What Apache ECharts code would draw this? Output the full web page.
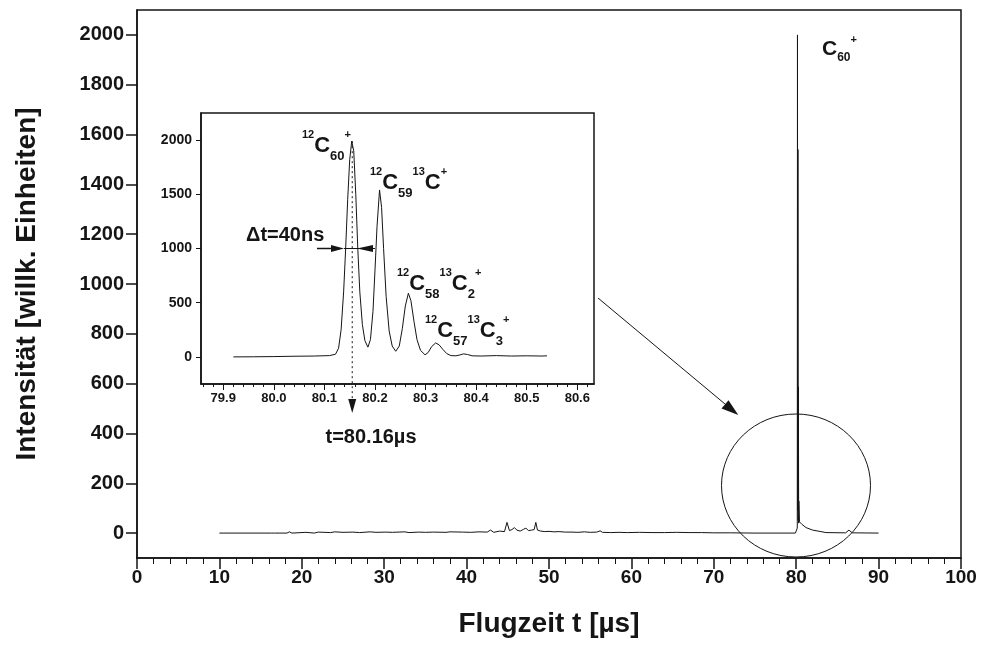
<!DOCTYPE html>
<html><head><meta charset="utf-8">
<script src="https://cdn.jsdelivr.net/npm/echarts@6/dist/echarts.min.js"></script>
<style>html,body{margin:0;padding:0;background:#fff}#c{width:981px;height:649px}</style>
</head><body><div id="c"></div>
<script>
// ---------- data ----------
const mainXTicks = [0,10,20,30,40,50,60,70,80,90,100];
const mainYTicks = [0,200,400,600,800,1000,1200,1400,1600,1800,2000];
const insetXTicks = [79.9,80.0,80.1,80.2,80.3,80.4,80.5,80.6];
const insetYTicks = [0,500,1000,1500,2000];

const mainTime = [10,16.3,16.5,16.7,18.2,18.5,18.8,20.5,21.5,22.0,23.5,24.0,25.0,26.2,27.0,28.3,29.0,30.2,31.0,32.5,33.0,34.2,35.0,36.0,37.5,38.0,39.5,40.5,41.5,42.5,42.9,43.3,44.0,44.6,44.9,45.2,45.5,45.8,46.1,46.5,46.9,47.2,47.5,47.9,48.2,48.4,48.6,49.0,49.5,50.0,50.6,51.2,52.0,52.8,53.5,54.3,55.0,55.8,56.2,56.5,57.5,58.5,59.5,61.0,62.5,64.0,65.5,67.0,68.5,70.0,72.0,75.0,79.9,80.13,80.154,80.186,80.209,80.241,80.266,80.299,80.32,80.4,80.7,81.2,82.0,83.0,83.6,86.0,86.4,86.8,90];
const mainIntensity = [0,0,4,0,0,5,0,3,0,4,2,5,3,4,2,5,3,4,3,5,2,4,3,4,3,5,4,3,5,4,12,3,8,6,43,10,14,22,12,8,15,20,10,12,14,43,12,8,6,7,5,6,4,4,3,5,3,4,9,3,2,3,2,3,2,2,3,2,2,1,1,0,0,20,2000,90,1540,52,587,40,129,45,35,22,12,6,2,1,12,1,0];

const insetTime = [79.92,79.96,80.00,80.04,80.08,80.11,80.122,80.128,80.133,80.138,80.142,80.146,80.150,80.154,80.158,80.162,80.166,80.170,80.175,80.180,80.186,80.191,80.196,80.200,80.204,80.209,80.213,80.217,80.222,80.228,80.234,80.241,80.248,80.254,80.260,80.266,80.271,80.277,80.283,80.290,80.299,80.305,80.312,80.320,80.327,80.334,80.342,80.350,80.360,80.368,80.375,80.383,80.392,80.41,80.44,80.47,80.50,80.53,80.54];
const insetIntensity = [0,1,3,6,8,12,25,80,250,600,1000,1450,1820,1990,1900,1500,1000,600,300,150,90,160,420,800,1200,1540,1380,1000,560,240,100,52,100,260,470,587,520,330,160,60,19,40,95,129,110,70,30,12,10,18,28,22,10,8,12,8,10,8,10];

const peakTime = 80.155;

// ---------- chart ----------
const FONT = "'Liberation Sans', Arial, sans-serif";
const INK = '#151515';

const insetMinorTicks = [];
for (let k = 0; k <= 39; k++) insetMinorTicks.push(+(79.86 + k * 0.02).toFixed(2));

const chart = echarts.init(document.getElementById('c'));
const mainData = mainTime.map((t, i) => [t, mainIntensity[i]]);
const insetData = insetTime.map((t, i) => [t, insetIntensity[i]]);

const labelStyle = (size) => ({fontFamily: FONT, fontWeight: 'bold', fontSize: size, color: INK});
const plain = v => String(v);

const option = {
  animation: false,
  backgroundColor: '#fff',
  grid: [
    {left: 137, right: 20, top: 10, bottom: 91, show: true, borderColor: INK, borderWidth: 1.5},
    {left: 201, right: 387, top: 113, bottom: 265, show: true, borderColor: INK, borderWidth: 1.5, backgroundColor: '#fff'}
  ],
  xAxis: [
    {gridIndex: 0, type: 'value', min: 0, max: 100, interval: 10,
     name: 'Flugzeit t [µs]', nameLocation: 'middle', nameGap: 52,
     nameTextStyle: labelStyle(28),
     axisLine: {onZero: false, lineStyle: {color: INK, width: 1.5}},
     axisTick: {length: 11, lineStyle: {color: INK, width: 1.5}},
     minorTick: {show: true, splitNumber: 5, length: 6, lineStyle: {color: INK, width: 1}},
     axisLabel: Object.assign({margin: 10, customValues: mainXTicks, formatter: plain}, labelStyle(19)),
     splitLine: {show: false}},
    {gridIndex: 1, type: 'value', min: 79.856, max: 80.633, position: 'bottom',
     axisLine: {onZero: false, lineStyle: {color: INK, width: 1.5}},
     axisTick: {length: 6, customValues: insetXTicks, lineStyle: {color: INK, width: 1}},
     axisLabel: Object.assign({margin: 8, customValues: insetXTicks, formatter: v => v.toFixed(1)}, labelStyle(13)),
     splitLine: {show: false}},
    {gridIndex: 1, type: 'value', min: 79.856, max: 80.633, position: 'bottom',
     axisLine: {show: false, onZero: false},
     axisTick: {length: 3, customValues: insetMinorTicks, lineStyle: {color: INK, width: 1}},
     axisLabel: {show: false}, splitLine: {show: false}}
  ],
  yAxis: [
    {gridIndex: 0, type: 'value', min: -100, max: 2100,
     name: 'Intensität [willk. Einheiten]', nameLocation: 'middle', nameGap: 96,
     nameTextStyle: labelStyle(28),
     axisLine: {onZero: false, lineStyle: {color: INK, width: 1.5}},
     axisTick: {length: 11, customValues: mainYTicks, lineStyle: {color: INK, width: 1.5}},
     axisLabel: Object.assign({margin: 13, customValues: mainYTicks, formatter: plain}, labelStyle(20)),
     splitLine: {show: false}},
    {gridIndex: 1, type: 'value', min: -250, max: 2250,
     axisLine: {onZero: false, lineStyle: {color: INK, width: 1.5}},
     axisTick: {length: 5, customValues: insetYTicks, lineStyle: {color: INK, width: 1}},
     axisLabel: Object.assign({margin: 9, customValues: insetYTicks, formatter: plain}, labelStyle(14)),
     splitLine: {show: false}}
  ],
  series: [
    {type: 'line', xAxisIndex: 0, yAxisIndex: 0, data: mainData, showSymbol: false,
     lineStyle: {color: INK, width: 1}, z: 3},
    {type: 'line', xAxisIndex: 1, yAxisIndex: 1, data: insetData, showSymbol: false,
     lineStyle: {color: INK, width: 1}, z: 5}
  ]
};
chart.setOption(option);

// ---------- annotations ----------
const rich = {
  s: {fontFamily: FONT, fontWeight: 'bold', fontSize: 11, verticalAlign: 'top', color: INK},
  c: {fontFamily: FONT, fontWeight: 'bold', fontSize: 22, lineHeight: 34, verticalAlign: 'middle', color: INK},
  b: {fontFamily: FONT, fontWeight: 'bold', fontSize: 13, verticalAlign: 'bottom', color: INK}
};
const richMain = {
  s: {fontFamily: FONT, fontWeight: 'bold', fontSize: 11, verticalAlign: 'top', color: INK},
  c: {fontFamily: FONT, fontWeight: 'bold', fontSize: 21, lineHeight: 30, verticalAlign: 'middle', color: INK},
  b: {fontFamily: FONT, fontWeight: 'bold', fontSize: 12, verticalAlign: 'bottom', color: INK}
};
function rtext(x, y, txt, r) {
  return {type: 'text', x: x, y: y, z: 50, style: {text: txt, rich: r, fill: INK, verticalAlign: 'top', align: 'left'}};
}
const pPeakTop = chart.convertToPixel({xAxisIndex: 1, yAxisIndex: 1}, [peakTime, 1990]);
const pHalf = chart.convertToPixel({xAxisIndex: 1, yAxisIndex: 1}, [peakTime, 1000]);
const lineX = pPeakTop[0];
const halfY = pHalf[1];

const graphics = [
  rtext(302, 129, '{s|12}{c|C}{b|60}{s|+}', rich),
  rtext(370, 166, '{s|12}{c|C}{b|59}{s|13}{c|C}{s|+}', rich),
  rtext(397, 267, '{s|12}{c|C}{b|58}{s|13}{c|C}{b|2}{s|+}', rich),
  rtext(425, 314, '{s|12}{c|C}{b|57}{s|13}{c|C}{b|3}{s|+}', rich),
  rtext(822, 34, '{c|C}{b|60}{s|+}', richMain),
  // dotted line through main isotope peak
  {type: 'line', z: 40, shape: {x1: lineX, y1: pPeakTop[1], x2: lineX, y2: 400},
   style: {stroke: INK, lineWidth: 1, lineDash: [2, 3]}},
  {type: 'polygon', z: 40, shape: {points: [[lineX - 4, 399], [lineX + 4, 399], [lineX, 413]]}, style: {fill: INK}},
  {type: 'text', z: 40, x: 371, y: 437, style: {text: 't=80.16µs', fontFamily: FONT, fontWeight: 'bold', fontSize: 20, fill: INK, align: 'center', verticalAlign: 'middle'}},
  // Delta t arrows
  {type: 'text', z: 40, x: 246, y: 235, style: {text: 'Δt=40ns', fontFamily: FONT, fontWeight: 'bold', fontSize: 20, fill: INK, align: 'left', verticalAlign: 'middle'}},
  {type: 'line', z: 40, shape: {x1: 317, y1: halfY, x2: 334, y2: halfY}, style: {stroke: INK, lineWidth: 1.5}},
  {type: 'polygon', z: 40, shape: {points: [[331, halfY - 3.5], [344, halfY], [331, halfY + 3.5]]}, style: {fill: INK}},
  {type: 'line', z: 40, shape: {x1: 344, y1: halfY, x2: 375, y2: halfY}, style: {stroke: INK, lineWidth: 1}},
  {type: 'polygon', z: 40, shape: {points: [[373, halfY - 3.5], [357, halfY], [373, halfY + 3.5]]}, style: {fill: INK}},
  // circle and arrow
  {type: 'ellipse', z: 40, shape: {cx: 796, cy: 485.5, rx: 74.5, ry: 71.5}, style: {stroke: INK, lineWidth: 1, fill: 'none'}},
  {type: 'line', z: 40, shape: {x1: 598, y1: 298, x2: 728, y2: 406.5}, style: {stroke: INK, lineWidth: 1}},
  {type: 'polygon', z: 40, shape: {points: [[738.3, 415], [721.5, 408.5], [728.5, 400.2]]}, style: {fill: INK}}
];
chart.setOption({graphic: graphics});
</script>
</body></html>
